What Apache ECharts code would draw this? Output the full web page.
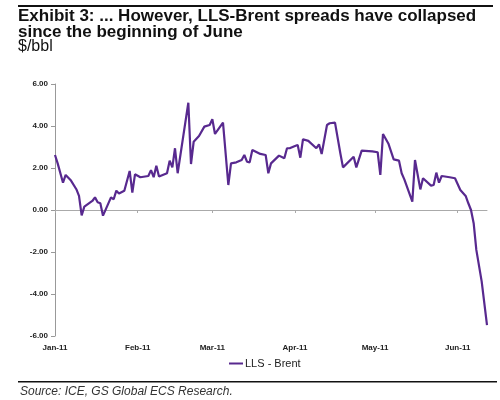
<!DOCTYPE html>
<html>
<head>
<meta charset="utf-8">
<script src="https://cdn.jsdelivr.net/npm/echarts@6/dist/echarts.min.js"></script>
<style>
  html, body { margin: 0; padding: 0; background: #fff; }
  #chart { width: 500px; height: 400px; }
</style>
</head>
<body>
<div id="chart"></div>
<script>
// LLS - Brent spread, $/bbl
const dates = [
  '2011-01-01', '2011-01-02', '2011-01-04', '2011-01-05', '2011-01-07', '2011-01-09',
  '2011-01-10', '2011-01-11', '2011-01-12', '2011-01-15', '2011-01-16', '2011-01-17',
  '2011-01-18', '2011-01-19', '2011-01-22', '2011-01-23', '2011-01-24', '2011-01-25',
  '2011-01-27', '2011-01-29', '2011-01-30', '2011-01-31', '2011-02-02', '2011-02-05',
  '2011-02-06', '2011-02-07', '2011-02-08', '2011-02-09', '2011-02-12', '2011-02-13',
  '2011-02-14', '2011-02-15', '2011-02-16', '2011-02-20', '2011-02-21', '2011-02-22',
  '2011-02-24', '2011-02-26', '2011-02-28', '2011-03-01', '2011-03-02', '2011-03-05',
  '2011-03-07', '2011-03-08', '2011-03-10', '2011-03-12', '2011-03-13', '2011-03-14',
  '2011-03-15', '2011-03-16', '2011-03-19', '2011-03-21', '2011-03-22', '2011-03-23',
  '2011-03-26', '2011-03-28', '2011-03-29', '2011-03-30', '2011-04-01', '2011-04-02',
  '2011-04-03', '2011-04-04', '2011-04-06', '2011-04-09', '2011-04-10', '2011-04-11',
  '2011-04-13', '2011-04-14', '2011-04-16', '2011-04-18', '2011-04-19', '2011-04-23',
  '2011-04-24', '2011-04-26', '2011-04-30', '2011-05-02', '2011-05-03', '2011-05-04',
  '2011-05-06', '2011-05-08', '2011-05-10', '2011-05-11', '2011-05-12', '2011-05-15',
  '2011-05-16', '2011-05-18', '2011-05-19', '2011-05-22', '2011-05-23', '2011-05-24',
  '2011-05-25', '2011-05-26', '2011-05-29', '2011-05-31', '2011-06-02', '2011-06-04',
  '2011-06-05', '2011-06-06', '2011-06-07', '2011-06-08', '2011-06-10', '2011-06-12'
]
const spread = [
  2.62, 2.22, 1.30, 1.67, 1.40, 0.99,
  0.67, -0.26, 0.16, 0.43, 0.60, 0.37,
  0.32, -0.27, 0.60, 0.51, 0.92, 0.79,
  0.92, 1.86, 0.83, 1.70, 1.56, 1.62,
  1.90, 1.56, 2.11, 1.59, 1.75, 2.35,
  2.03, 2.94, 1.75, 5.11, 2.19, 3.25,
  3.52, 3.97, 4.05, 4.32, 3.62, 4.16,
  1.19, 2.22, 2.27, 2.38, 2.62, 2.30,
  2.27, 2.86, 2.67, 2.62, 1.75, 2.22,
  2.59, 2.46, 2.94, 2.94, 3.05, 3.10,
  2.49, 3.37, 3.29, 2.94, 3.13, 2.67,
  4.05, 4.13, 4.16, 2.70, 2.03, 2.54,
  2.03, 2.83, 2.79, 2.75, 1.67, 3.62,
  3.17, 2.41, 2.35, 1.75, 1.46, 0.40,
  2.38, 0.98, 1.51, 1.16, 1.19, 1.78,
  1.30, 1.62, 1.56, 1.51, 0.95, 0.67,
  0.32, 0.00, -0.63, -1.90, -3.40, -5.48
]
const monthTicks = ['2011-01-01', '2011-02-01', '2011-03-01', '2011-04-01', '2011-05-01', '2011-06-01']
const monthLabels = ['Jan-11', 'Feb-11', 'Mar-11', 'Apr-11', 'May-11', 'Jun-11']

const ts = d => new Date(d + 'T00:00:00Z').getTime()
const tickTimes = monthTicks.map(ts)
const xMin = ts('2011-01-01')
const xMax = ts('2011-06-12')

const chart = echarts.init(document.getElementById('chart'))

const option = {
  animation: false,
  textStyle: { fontFamily: 'Liberation Sans, Arial, sans-serif' },
  grid: { left: 55, right: 13, top: 84, bottom: 64 },
  graphic: [
    { type: 'rect', shape: { x: 18, y: 5, width: 475, height: 2 }, style: { fill: '#111' } },
    { type: 'text', left: 18, top: 8, style: { text: 'Exhibit 3: ... However, LLS-Brent spreads have collapsed', font: 'bold 17px Liberation Sans, Arial, sans-serif', fill: '#111' } },
    { type: 'text', left: 18, top: 24, style: { text: 'since the beginning of June', font: 'bold 17px Liberation Sans, Arial, sans-serif', fill: '#111' } },
    { type: 'text', left: 18, top: 39, style: { text: '$/bbl', font: '16px Liberation Sans, Arial, sans-serif', fill: '#111' } },
    { type: 'rect', shape: { x: 18, y: 381, width: 479, height: 1.5 }, style: { fill: '#111' } },
    { type: 'text', left: 20, top: 386, style: { text: 'Source: ICE, GS Global ECS Research.', font: 'italic 12px Liberation Sans, Arial, sans-serif', fill: '#333' } }
  ],
  legend: {
    left: 224,
    top: 353,
    icon: 'rect',
    itemWidth: 14,
    itemHeight: 2,
    itemGap: 4,
    textStyle: { fontSize: 11, color: '#222', padding: [0, 0, 0, -3] },
    data: ['LLS - Brent']
  },
  xAxis: [
    {
      type: 'value',
      min: xMin,
      max: xMax,
      position: 'bottom',
      axisLine: { show: false, onZero: false },
      axisTick: { show: false },
      splitLine: { show: false },
      axisLabel: {
        customValues: tickTimes,
        margin: 8,
        fontSize: 8,
        fontWeight: 'bold',
        color: '#222',
        formatter: v => monthLabels[tickTimes.indexOf(v)] || ''
      }
    },
    {
      type: 'value',
      min: xMin,
      max: xMax,
      position: 'bottom',
      axisLine: { show: true, onZero: true, lineStyle: { color: '#aaa', width: 1 } },
      axisTick: { show: true, customValues: tickTimes, length: 3, lineStyle: { color: '#aaa' } },
      axisLabel: { show: false },
      splitLine: { show: false }
    }
  ],
  yAxis: {
    type: 'value',
    min: -6,
    max: 6,
    interval: 2,
    axisLine: { show: true, lineStyle: { color: '#999' } },
    axisTick: { show: true, length: 4, lineStyle: { color: '#999' } },
    splitLine: { show: false },
    axisLabel: {
      fontSize: 8,
      fontWeight: 'bold',
      color: '#222',
      margin: 7,
      formatter: v => v.toFixed(2)
    }
  },
  series: [{
    name: 'LLS - Brent',
    type: 'line',
    xAxisIndex: 0,
    data: dates.map((d, i) => [ts(d), spread[i]]),
    symbol: 'none',
    lineStyle: { color: '#58298f', width: 2.2 },
    itemStyle: { color: '#58298f' }
  }]
}

chart.setOption(option)
</script>
</body>
</html>
